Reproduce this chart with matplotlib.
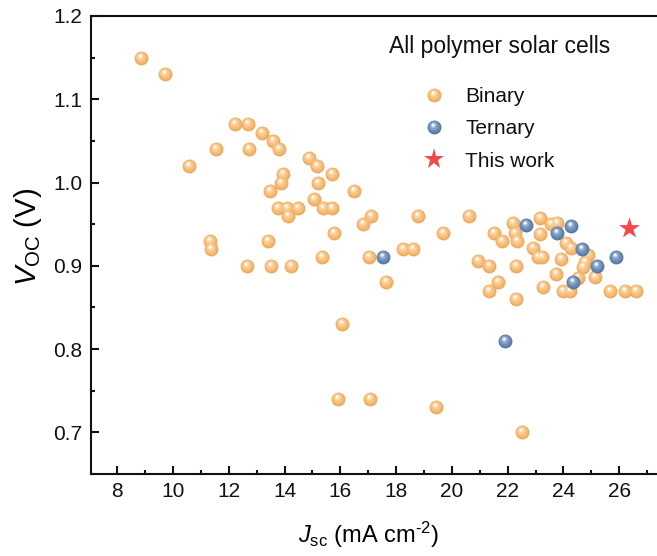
import numpy as np
import matplotlib
matplotlib.use("Agg")
import matplotlib.pyplot as plt
from matplotlib.path import Path
from matplotlib.markers import MarkerStyle
from matplotlib.lines import Line2D
from matplotlib.legend_handler import HandlerTuple
from matplotlib.ticker import MultipleLocator, FormatStrFormatter

# ---------------- data ----------------
binary_jsc = [8.87, 9.71, 10.57, 11.54, 12.22, 12.70, 12.73, 13.18, 13.57, 13.81,
              13.95, 13.89, 13.48, 13.77, 14.10, 14.49, 14.13, 14.88, 15.15, 15.21,
              15.69, 15.05, 15.39, 15.69, 16.49, 17.10, 16.82, 15.77, 11.32, 13.39,
              11.38, 12.66, 13.50, 14.22, 15.36, 17.04, 16.07, 15.90, 17.06, 19.43,
              22.52, 17.63, 18.79, 20.62, 19.69, 18.25, 18.59, 20.94, 21.34, 21.50,
              21.80, 21.66, 21.33, 22.20, 22.26, 22.32, 22.30, 22.30, 23.16, 23.16,
              23.55, 23.78, 22.90, 23.10, 23.22, 24.11, 24.29, 23.90, 24.89, 24.77,
              24.71, 23.75, 24.53, 25.13, 23.27, 23.99, 24.23, 25.67, 26.20, 26.60]
binary_voc = [1.15, 1.13, 1.02, 1.04, 1.07, 1.07, 1.04, 1.06, 1.05, 1.04,
              1.01, 1.00, 0.99, 0.97, 0.97, 0.97, 0.96, 1.03, 1.02, 1.00,
              1.01, 0.98, 0.97, 0.97, 0.99, 0.96, 0.95, 0.94, 0.93, 0.93,
              0.92, 0.90, 0.90, 0.90, 0.91, 0.91, 0.83, 0.74, 0.74, 0.73,
              0.70, 0.88, 0.96, 0.96, 0.94, 0.92, 0.92, 0.906, 0.90, 0.94,
              0.93, 0.88, 0.87, 0.951, 0.940, 0.930, 0.90, 0.86, 0.957, 0.938,
              0.950, 0.951, 0.921, 0.91, 0.91, 0.928, 0.921, 0.908, 0.913, 0.905,
              0.899, 0.89, 0.885, 0.886, 0.874, 0.87, 0.87, 0.87, 0.87, 0.87]

ternary_jsc = [17.54, 21.90, 22.65, 23.78, 24.29, 24.65, 25.21, 24.35, 25.88]
ternary_voc = [0.91, 0.81, 0.949, 0.940, 0.948, 0.920, 0.900, 0.881, 0.910]

this_jsc = [26.36]
this_voc = [0.945]

legend_title = "All polymer solar cells"
labels = ["Binary", "Ternary", "This work"]

# ---------------- style ----------------
plt.rcParams['font.family'] = ['Liberation Sans', 'DejaVu Sans']
plt.rcParams['mathtext.fontset'] = 'custom'
plt.rcParams['mathtext.rm'] = 'Liberation Sans'
plt.rcParams['mathtext.it'] = 'Liberation Sans:italic'
plt.rcParams['mathtext.bf'] = 'Liberation Sans:bold'


def disk_marker(cx, cy, r):
    anchors = Path([(-1, -1), (1, 1)], [Path.MOVETO, Path.MOVETO])
    circ = Path.circle((cx, cy), r)
    return MarkerStyle(Path.make_compound_path(anchors, circ))


layer_geom = [(0.0, 0.0, 1.0), (-0.06, 0.10, 0.84), (-0.12, 0.22, 0.60),
              (-0.16, 0.30, 0.38), (-0.18, 0.34, 0.20)]
orange_cols = ['#EFAA5C', '#F6BB78', '#F9CB92', '#FCDDB8', '#FFFFFF']
blue_cols = ['#5878A2', '#6A8BB4', '#84A1C5', '#AFC3DB', '#FFFFFF']
layer_alpha = [1, 1, 1, 0.9, 0.95]

W, H = 657, 556
fig = plt.figure(figsize=(W / 100, H / 100), dpi=100)
ax_left, ax_w = 91 / W, 582 / W
ax = fig.add_axes([ax_left, 82 / H, ax_w, 458 / H])

S = 100


def draw_spheres(xs, ys, cols, z):
    handles = []
    for (cx, cy, r), c, a in zip(layer_geom, cols, layer_alpha):
        m = disk_marker(cx, cy, r)
        ax.scatter(xs, ys, s=S, marker=m, color=c, alpha=a, linewidths=0, zorder=z)
        handles.append(Line2D([], [], linestyle='none', marker=m, markersize=np.sqrt(S),
                              markerfacecolor=c, markeredgewidth=0, alpha=a))
        z += 0.01
    return tuple(handles)


h_bin = draw_spheres(binary_jsc, binary_voc, orange_cols, 3)
h_ter = draw_spheres(ternary_jsc, ternary_voc, blue_cols, 4)
ax.scatter(this_jsc, this_voc, s=250, marker='*', color='#F3474B', linewidths=0, zorder=6)
h_star = Line2D([], [], linestyle='none', marker='*', markersize=np.sqrt(250),
                markerfacecolor='#F3474B', markeredgewidth=0)

ax.set_xlim(7.06, 27.93)
ax.set_ylim(0.65, 1.2)
ax.xaxis.set_major_locator(MultipleLocator(2))
ax.xaxis.set_minor_locator(MultipleLocator(1))
ax.yaxis.set_major_locator(MultipleLocator(0.1))
ax.yaxis.set_minor_locator(MultipleLocator(0.05))
ax.yaxis.set_major_formatter(FormatStrFormatter('%.1f'))

for s in ['left', 'bottom', 'top', 'right']:
    ax.spines[s].set_linewidth(1.5)
    ax.spines[s].set_color('#111111')
ax.tick_params(which='both', direction='in', width=1.5, colors='#111111',
               top=False, right=False)
ax.tick_params(which='major', length=5.5, labelsize=15, pad=6)
ax.tick_params(which='minor', length=3)

ax.set_xlabel("$J_{\\mathrm{sc}}$ (mA cm$^{\u2010 2}$)", fontsize=17)
ax.xaxis.set_label_coords((369 - 91) / 582, -(543 - 474) / 458)
ax.xaxis.label.set_va('baseline')
ax.set_ylabel(r"$V_{\mathrm{OC}}$ (V)", fontsize=21)
ax.yaxis.set_label_coords(-(91 - 44) / 582, (474 - 237) / 458)

fig.text(500 / W, 1 - 47 / H, legend_title, fontsize=16.5, ha='center', va='center',
         color='#111111')

leg = ax.legend([h_bin, h_ter, h_star], labels,
                handler_map={tuple: HandlerTuple(ndivide=1, pad=0)},
                frameon=False, fontsize=15, loc='upper left',
                bbox_to_anchor=(421.5 / W, 1 - 87 / H),
                bbox_transform=fig.transFigure,
                labelspacing=0.64, handletextpad=0.89, handlelength=1.2,
                borderpad=0, borderaxespad=0)
for t in leg.get_texts():
    t.set_color('#111111')

fig.savefig("out.png", dpi=100)
